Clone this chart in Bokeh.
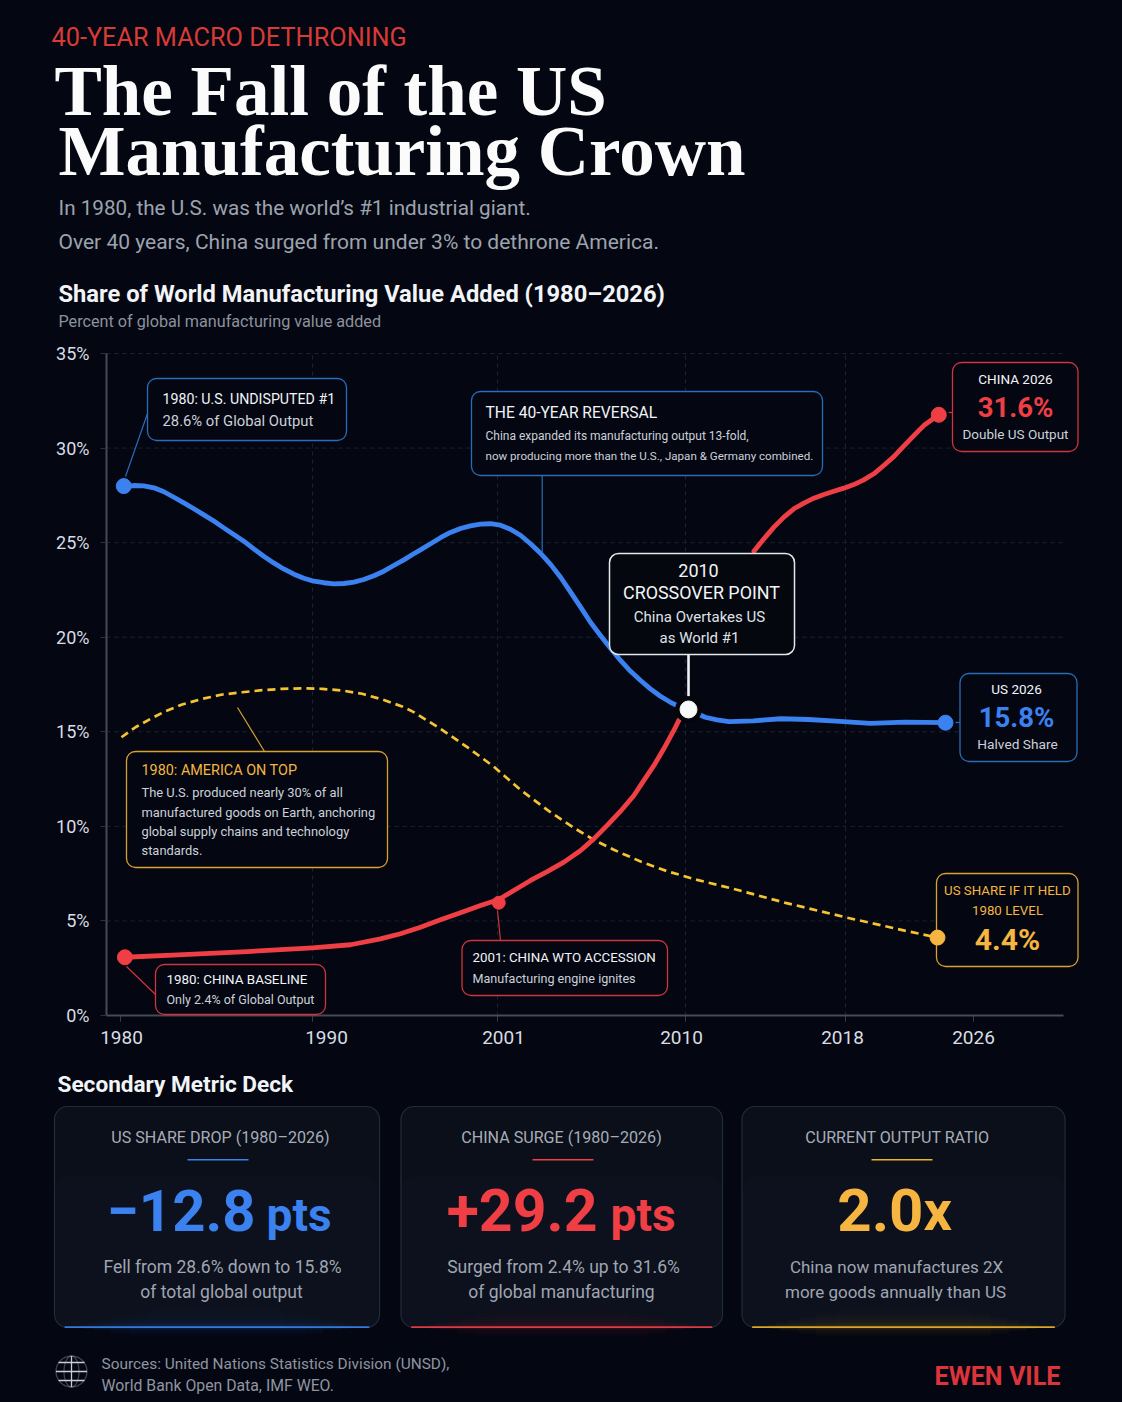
import numpy as np
from bokeh.core.properties import value
from bokeh.embed import file_html
from bokeh.models import (Arrow, BoxAnnotation, FixedTicker, Label, PolyAnnotation, Range1d)
from bokeh.plotting import figure
from bokeh.resources import INLINE

# ---------- data ----------
TICK_YEARS = [1980, 1990, 2001, 2010, 2018, 2026]
GRID_YEARS = [1990, 2001, 2010, 2018]
Y_TICKS = [0, 5, 10, 15, 20, 25, 30, 35]

US_YEARS = [1980.17, 1980.69, 1981.21, 1981.74, 1982.26, 1982.78, 1983.3, 1983.82, 1984.34, 1984.86, 1985.38,
            1985.9, 1986.42, 1986.94, 1987.46, 1987.98, 1988.5, 1989.03, 1989.55, 1990.08, 1990.67, 1991.27,
            1991.86, 1992.46, 1993.05, 1993.65, 1994.24, 1994.83, 1995.43, 1996.02, 1996.42, 1997.02, 1997.61,
            1998.2, 1998.8, 1999.39, 1999.99, 2000.58, 2001.14, 2001.62, 2002.1, 2002.58, 2003.06, 2003.54,
            2004.02, 2004.5, 2004.98, 2005.45, 2005.93, 2006.41, 2006.89, 2007.37, 2007.85, 2008.32, 2008.8,
            2009.28, 2009.68, 2010.15, 2010.98, 2011.58, 2012.18, 2013.39, 2014.77, 2016.15, 2017.52, 2019.56,
            2021.71, 2024.25]
US_SHARE = [27.99, 28.02, 28.0, 27.9, 27.69, 27.4, 27.1, 26.79, 26.47, 26.14, 25.78,
            25.43, 25.08, 24.67, 24.28, 23.93, 23.61, 23.33, 23.12, 22.96, 22.88, 22.82,
            22.84, 22.91, 23.05, 23.25, 23.49, 23.79, 24.09, 24.41, 24.62, 24.94, 25.26,
            25.54, 25.75, 25.89, 25.98, 26.0, 25.92, 25.71, 25.39, 24.94, 24.44, 23.85,
            23.17, 22.38, 21.59, 20.79, 20.09, 19.42, 18.77, 18.2, 17.71, 17.27, 16.88,
            16.56, 16.34, 16.18, 15.77, 15.63, 15.54, 15.58, 15.69, 15.65, 15.56, 15.45,
            15.51, 15.48]

CN_YEARS = [1980.23, 1983.0, 1986.6, 1990.0, 1992.26, 1994.04, 1995.23, 1996.42, 1997.61, 1998.8, 1999.99,
            2001.06, 2001.78, 2002.58, 2003.38, 2004.18, 2004.98, 2005.61, 2006.25, 2006.89, 2007.53, 2008.0,
            2008.49, 2008.96, 2009.44, 2009.68, 2010.15, 2012.0, 2013.42, 2013.92, 2014.42, 2014.92, 2015.42,
            2015.92, 2016.42, 2016.92, 2017.42, 2017.92, 2018.52, 2019.14, 2019.77, 2020.39, 2021.02, 2021.64,
            2022.27, 2022.89, 2023.83]
CN_SHARE = [3.08, 3.21, 3.38, 3.58, 3.74, 4.05, 4.32, 4.67, 5.06, 5.43, 5.82,
            6.13, 6.61, 7.14, 7.61, 8.11, 8.72, 9.34, 10.05, 10.8, 11.63, 12.42,
            13.22, 14.1, 15.07, 15.6, 16.18, float("nan"), 24.55, 25.2, 25.82, 26.35, 26.79,
            27.09, 27.35, 27.55, 27.72, 27.88, 28.07, 28.32, 28.64, 29.08, 29.55, 30.1,
            30.66, 31.19, 31.76]

HELD_YEARS = [1980.05, 1980.78, 1981.47, 1982.34, 1983.21, 1984.25, 1985.3, 1986.34, 1987.38, 1988.42, 1989.46,
              1990.58, 1991.77, 1992.95, 1994.14, 1995.33, 1996.02, 1997.61, 1999.2, 2000.78, 2002.1, 2003.38,
              2004.66, 2005.61, 2006.57, 2007.85, 2009.12, 2010.58, 2012.35, 2014.95, 2018.06, 2021.7, 2023.75]
HELD_SHARE = [14.71, 15.24, 15.63, 16.09, 16.44, 16.74, 16.97, 17.09, 17.2, 17.27, 17.3,
              17.27, 17.18, 17.01, 16.71, 16.34, 16.04, 15.16, 14.19, 13.16, 11.93, 10.87,
              9.92, 9.29, 8.76, 8.14, 7.63, 7.17, 6.71, 5.97, 5.18, 4.49, 4.12]

US_DOT_YEARS = [1980.17, 2024.25]
US_DOT_SHARE = [27.99, 15.48]
CN_DOT_YEARS = [1980.23, 2001.06, 2023.83]
CN_DOT_SHARE = [3.08, 5.96, 31.76]
HELD_DOT_YEARS = [2023.75]
HELD_DOT_SHARE = [4.12]
CROSS_YEAR = [2010.15]
CROSS_SHARE = [16.18]

# ---------- layout / style ----------
BG = "#040712"
BLUE, RED, AMBER, YELLOW = "#3b82f0", "#ef3f45", "#f5b540", "#f6c431"
SANS, SERIF = "Roboto", "Liberation Serif"
WHITE, SOFT, GREY = "#f2f4f7", "#ccd1d9", "#9da3ae"

W, H = 1106, 1400
# the printed axis is not uniform in time: where each labelled year sits along it
TICK_PLACES = [120, 312, 497, 685, 845, 973]
LABEL_PLACES = [121, 326, 503, 681, 842, 973]
FL, FR, FT, FB = 106, 1063, 353, 1015
PER_UNIT = (FB - FT) / 35


def place(years):
    return np.interp(years, TICK_YEARS, TICK_PLACES)


p = figure(width=W, height=H, output_backend="svg", toolbar_location=None,
           x_range=Range1d(0, W), y_range=Range1d((FB - H) / PER_UNIT, FB / PER_UNIT),
           min_border=0, background_fill_color=BG, border_fill_color=BG, outline_line_color=None)

xa, ya = p.xaxis[0], p.yaxis[0]
xa.fixed_location = 0
ya.fixed_location = FL
xa.bounds = (FL, FR)
ya.bounds = (0, 35)
xa.ticker = FixedTicker(ticks=LABEL_PLACES)
xa.major_label_overrides = dict(zip(LABEL_PLACES, [str(y) for y in TICK_YEARS]))
ya.ticker = FixedTicker(ticks=Y_TICKS)
ya.major_label_overrides = {v: f"{v}%" for v in Y_TICKS}
for ax, size in ((xa, 19), (ya, 18)):
    ax.axis_line_color = "#474a57"
    ax.axis_line_width = 2
    ax.major_tick_line_color = "#2d3140"
    ax.major_tick_in = 0
    ax.major_tick_out = 6
    ax.minor_tick_line_color = None
    ax.major_label_text_color = "#d9dde3"
    ax.major_label_text_font = SANS
    ax.major_label_text_font_size = f"{size}px"
    ax.major_label_standoff = 11
xa.major_tick_line_color = None
xa.major_label_standoff = 9
p.grid.visible = False

GRID = dict(line_color="#1c2231", line_width=1, line_dash=value([4, 4]), level="underlay")
p.segment(x0=[FL] * 7, y0=Y_TICKS[1:], x1=[FR] * 7, y1=Y_TICKS[1:], **GRID)
p.segment(x0=place(GRID_YEARS), y0=[0] * 4, x1=place(GRID_YEARS), y1=[35] * 4, **GRID)
p.segment(x0=place(TICK_YEARS), y0=[0] * 6, x1=place(TICK_YEARS), y1=[-6 / PER_UNIT] * 6,
          line_color="#3a3e4c", line_width=1, level="underlay")

# ---------- series ----------
p.line(place(HELD_YEARS), HELD_SHARE, line_color=YELLOW, line_width=2.7, line_dash=[8, 5])
p.line(place(US_YEARS), US_SHARE, line_color=BLUE, line_width=4.8, line_join="round", line_cap="round")
p.line(place(CN_YEARS), CN_SHARE, line_color=RED, line_width=4.8, line_join="round", line_cap="round")


# ---------- helpers, in page pixels ----------
def sy(y):
    return H - y


def text(x, y, s, size, color=WHITE, font=SANS, align="left", style="normal"):
    # y is where the letters stand; the svg text sits about a third of its size below that
    p.add_layout(Label(x=x, y=sy(y - 0.34 * size), x_units="screen", y_units="screen", text=s,
                       text_font=font, text_font_size=f"{size}px", text_color=color,
                       text_align=align, text_baseline="alphabetic", text_font_style=style,
                       level="overlay"))


def box(x0, y0, x1, y1, fill=BG, line=None, radius=9, alpha=1.0, lw=1.3, level="annotation"):
    p.add_layout(BoxAnnotation(left=x0, right=x1, top=sy(y0), bottom=sy(y1),
                               left_units="screen", right_units="screen",
                               top_units="screen", bottom_units="screen",
                               fill_color=fill, fill_alpha=alpha,
                               line_color=line, line_width=lw, line_alpha=1.0 if line else 0,
                               border_radius=radius, level=level))


def link(x0, y0, x1, y1, color, lw=1.2):
    p.add_layout(Arrow(end=None, start=None, x_start=x0, y_start=sy(y0), x_end=x1, y_end=sy(y1),
                       start_units="screen", end_units="screen",
                       line_color=color, line_width=lw, level="annotation"))


# ---------- header ----------
text(51, 46, "40-YEAR MACRO DETHRONING", 25.3, "#d83a36")
text(54, 115, "The Fall of the US", 71, "#fbfbfb", SERIF, style="bold")
text(58, 175, "Manufacturing Crown", 71, "#fbfbfb", SERIF, style="bold")
text(58, 215, "In 1980, the U.S. was the world’s #1 industrial giant.", 20.7, GREY)
text(58, 249, "Over 40 years, China surged from under 3% to dethrone America.", 21, GREY)
text(58, 302, "Share of World Manufacturing Value Added (1980–2026)", 23.7, WHITE, SANS, style="bold")
text(58, 327, "Percent of global manufacturing value added", 16.2, "#8d929c")

# ---------- callouts ----------
LBLUE, LRED, LAMBER = "#2a6cb8", "#d0343c", "#d9a032"

link(125, 476, 147, 413, LBLUE)
box(147, 378, 346, 440, line=LBLUE)
text(162, 403, "1980: U.S. UNDISPUTED #1", 14.2, WHITE)
text(162, 426, "28.6% of Global Output", 14.8, SOFT)

link(541.7, 475, 541.7, 552, LBLUE)
box(471, 391, 822, 475, line=LBLUE)
text(485, 418, "THE 40-YEAR REVERSAL", 15.6, WHITE)
text(485, 440, "China expanded its manufacturing output 13-fold,", 12, SOFT)
text(485, 459, "now producing more than the U.S., Japan & Germany combined.", 11.6, SOFT)

link(948, 412, 952, 412, LRED)
box(952, 362, 1077.5, 451, line=LRED)
text(1015, 383, "CHINA 2026", 13.5, WHITE, SANS, "center")
text(1015, 416, "31.6%", 27.5, RED, SANS, "center", "bold")
text(1015, 438, "Double US Output", 13.5, SOFT, SANS, "center")

link(955, 722, 959.5, 722, LBLUE)
box(959.5, 673, 1076.5, 761, line=LBLUE)
text(1016, 693, "US 2026", 13.5, WHITE, SANS, "center")
text(1016, 726, "15.8%", 27.5, BLUE, SANS, "center", "bold")
text(1017, 748, "Halved Share", 13.7, SOFT, SANS, "center")

link(688, 654, 688, 704, "#f0f2f5", 2.6)
box(609, 553, 794, 654, fill="#05070f", line="#e4e7ea", lw=1.5)
text(698, 576, "2010", 18, WHITE, SANS, "center")
text(701, 598, "CROSSOVER POINT", 17.9, WHITE, SANS, "center")
text(699, 622, "China Overtakes US", 15, "#dfe3e8", SANS, "center")
text(699, 643, "as World #1", 15, "#dfe3e8", SANS, "center")

box(936, 873, 1077.5, 966, line=LAMBER)
text(1007, 895, "US SHARE IF IT HELD", 13.3, AMBER, SANS, "center")
text(1007, 915, "1980 LEVEL", 13.3, AMBER, SANS, "center")
text(1007, 949, "4.4%", 30, AMBER, SANS, "center", "bold")

link(237, 707, 264, 751, LAMBER)
box(126, 751, 387, 867, line=LAMBER)
text(141, 775, "1980: AMERICA ON TOP", 14.4, AMBER)
for y_, s_ in zip((796, 816, 835, 854),
                  ("The U.S. produced nearly 30% of all", "manufactured goods on Earth, anchoring",
                   "global supply chains and technology", "standards.")):
    text(141, y_, s_, 12.9, SOFT)

link(126, 966, 155, 994, LRED)
box(155, 964, 325, 1014, line=LRED)
text(166, 984, "1980: CHINA BASELINE", 13.4, WHITE)
text(166, 1003, "Only 2.4% of Global Output", 12.5, SOFT)

link(497, 910, 500, 940, LRED)
box(461.5, 940, 667, 995, line=LRED)
text(472, 962, "2001: CHINA WTO ACCESSION", 13.3, WHITE)
text(472, 982, "Manufacturing engine ignites", 12.6, SOFT)

# ---------- markers, above the callouts ----------
p.scatter(place(US_DOT_YEARS), US_DOT_SHARE, size=15, color=BLUE, level="overlay")
p.scatter(place(CN_DOT_YEARS), CN_DOT_SHARE, size=[15, 13, 15], color=RED, level="overlay")
p.scatter(place(HELD_DOT_YEARS), HELD_DOT_SHARE, size=15, color=AMBER, level="overlay")
p.scatter(place(CROSS_YEAR), CROSS_SHARE, size=26, color="#03050b", level="overlay")
p.scatter(place(CROSS_YEAR), CROSS_SHARE, size=17, color="#f7f8f9", level="overlay")

# ---------- metric deck ----------
text(57, 1092, "Secondary Metric Deck", 22.6, WHITE, SANS, style="bold")


def card(x0, x1, color, head, head_x, rule_x, lines, lines_x, size=17.5):
    y0, y1 = 1106, 1327
    # soft glow under the bottom edge
    for k, a in ((9, .025), (6, .035), (3, .05), (1.5, .07)):
        box(x0 + 20 + 6 * k, y1, x1 - 20 - 6 * k, y1 + k, fill=color, alpha=a, radius=2)
    box(x0, y0, x1, y1, fill="#0a0f19", line="#242b38", radius=13, lw=1.2)
    box(x0 + 1, y0 + 70, x1 - 1, y1 - 1, fill="#111824", alpha=.35, radius=12)
    for k, a in ((20, .012), (15, .016), (11, .02), (8, .025), (5, .035), (3, .05)):
        box(x0 + 14 + 4 * k, y1 - k, x1 - 14 - 4 * k, y1, fill=color, alpha=a, radius=2)
    box(x0 + 10, y1 - 1.2, x1 - 10, y1 + 0.6, fill=color, alpha=.9, radius=1)
    text(head_x, 1142, head, 16.1, "#a7adb8", SANS, "center")
    box(rule_x, 1158.6, rule_x + 61, 1160, fill=color, radius=0)
    text(lines_x[0], 1272, lines[0], size, "#a0a6b1", SANS, "center")
    text(lines_x[1], 1297, lines[1], size, "#a0a6b1", SANS, "center")


card(54, 379, BLUE, "US SHARE DROP (1980–2026)", 220, 187,
     ("Fell from 28.6% down to 15.8%", "of total global output"), (222, 221))
card(400.5, 722, RED, "CHINA SURGE (1980–2026)", 561, 532,
     ("Surged from 2.4% up to 31.6%", "of global manufacturing"), (563, 561))
card(741.5, 1064.5, "#f0b429", "CURRENT OUTPUT RATIO", 897, 871,
     ("China now manufactures 2X", "more goods annually than US"), (896, 895), 17)

text(255, 1230, "−12.8", 58, BLUE, SANS, "right", "bold")
text(266, 1230, "pts", 46, BLUE, SANS, "left", "bold")
text(597, 1230, "+29.2", 59, RED, SANS, "right", "bold")
text(610, 1230, "pts", 46, RED, SANS, "left", "bold")
text(923, 1230, "2.0", 60, AMBER, SANS, "right", "bold")
text(923, 1230, "x", 56, AMBER, SANS, "left", "bold")

# ---------- footer ----------
t = np.linspace(0, 2 * np.pi, 49)
ICON = "#c9ced6"


def ring(rx, ry, cy=1371.0):
    p.add_layout(PolyAnnotation(xs=list(71 + rx * np.cos(t)), ys=list(sy(cy + ry * np.sin(t))),
                                xs_units="screen", ys_units="screen", fill_alpha=0,
                                line_color=ICON, line_width=1.3, level="overlay"))


ring(15.5, 15.5)
ring(7.5, 15.5)
link(71, 1355.5, 71, 1386.5, ICON, 1.3)
link(55.5, 1371, 86.5, 1371, ICON, 1.3)
link(58, 1362, 84, 1362, ICON, 1.3)
link(58, 1380, 84, 1380, ICON, 1.3)

text(101, 1369, "Sources: United Nations Statistics Division (UNSD),", 15.4, "#8f95a0")
text(101, 1390, "World Bank Open Data, IMF WEO.", 15.8, "#8f95a0")
text(1060, 1385, "EWEN VILE", 25.2, "#dd343b", SANS, "right", "bold")

PAGE_STYLE = "<head><style>html,body{background:#040712}</style>"
open("out.html", "w").write(file_html(p, INLINE).replace("<head>", PAGE_STYLE, 1))
